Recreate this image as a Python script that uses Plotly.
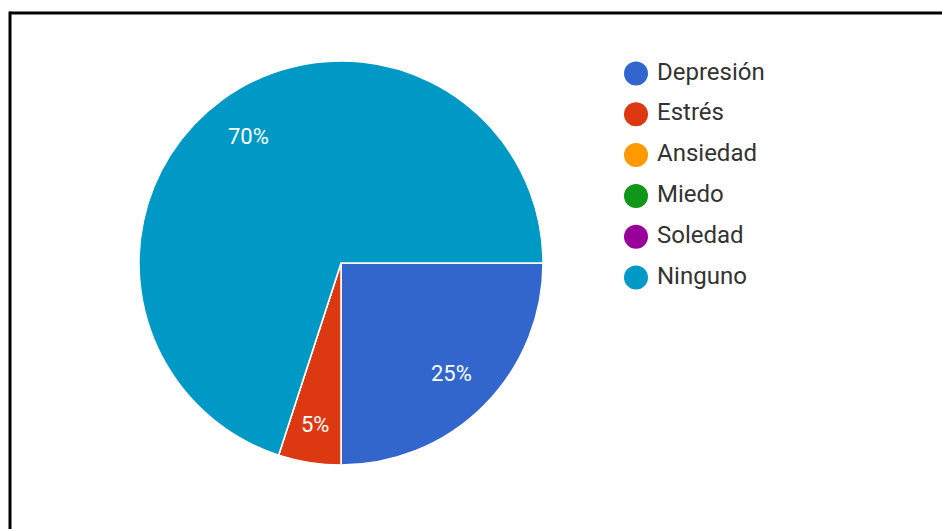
import math
import plotly.graph_objects as go

W, H = 942, 529

categories = ["Depresión", "Estrés", "Ansiedad", "Miedo", "Soledad", "Ninguno"]
values = [25, 5, 0, 0, 0, 70]
colors = ["#3366cc", "#dc3912", "#ff9900", "#109618", "#990099", "#0099c6"]

fig = go.Figure()

# pie: center (341,263), radius 202
cx, cy, r = 341, 263, 202
fig.add_trace(go.Pie(
    labels=categories, values=values, sort=False, direction="clockwise", rotation=90,
    marker=dict(colors=colors, line=dict(color="white", width=1.5)),
    textinfo="none",
    showlegend=False, hoverinfo="label+percent",
    domain=dict(x=[(cx - r) / W, (cx + r) / W], y=[1 - (cy + r) / H, 1 - (cy - r) / H]),
))

# percentage labels placed along each slice's mid angle (clockwise from 3 o'clock)
total = sum(values)
annotations = []
cum = 0
for v in values:
    if v > 0:
        frac = v / total
        mid = (cum + v / 2) / total * 2 * math.pi
        rr = (0.775 if frac > 0.1 else 0.81) * r
        px = cx + rr * math.cos(mid)
        py = cy + rr * math.sin(mid)
        annotations.append(dict(
            x=px / W, y=1 - py / H, xref="paper", yref="paper",
            text=f"{round(100 * frac)}%", showarrow=False,
            xanchor="center", yanchor="middle",
            font=dict(family="Roboto", size=22, color="white"),
        ))
    cum += v

# legend drawn as scatter traces on hidden axes
leg_y = [-i for i in range(len(categories))]
fig.add_trace(go.Scatter(
    x=[0] * len(categories), y=leg_y, mode="markers",
    marker=dict(size=24, color=colors),
    showlegend=False, hoverinfo="skip", cliponaxis=False,
))
fig.add_trace(go.Scatter(
    x=[21] * len(categories), y=leg_y, mode="text",
    text=categories, textposition="middle right",
    textfont=dict(family="Roboto", size=24, color="#333333"),
    showlegend=False, hoverinfo="skip", cliponaxis=False,
))

x0, y0, step = 636, 73.5, 40.8
fig.update_layout(
    width=W, height=H,
    margin=dict(l=0, r=0, t=0, b=0),
    paper_bgcolor="white", plot_bgcolor="rgba(0,0,0,0)",
    showlegend=False,
    annotations=annotations,
    xaxis=dict(visible=False, range=[-x0, W - x0], domain=[0, 1], fixedrange=True),
    yaxis=dict(visible=False, range=[-(H - y0) / step, y0 / step], domain=[0, 1], fixedrange=True),
    shapes=[
        dict(type="line", xref="paper", yref="paper", x0=10 / W, x1=1.01, y0=1 - 13 / H, y1=1 - 13 / H,
             line=dict(color="black", width=3)),
        dict(type="line", xref="paper", yref="paper", x0=10 / W, x1=10 / W, y0=1 - 11.5 / H, y1=-0.01,
             line=dict(color="black", width=3)),
    ],
)

fig.write_html("out.html")
